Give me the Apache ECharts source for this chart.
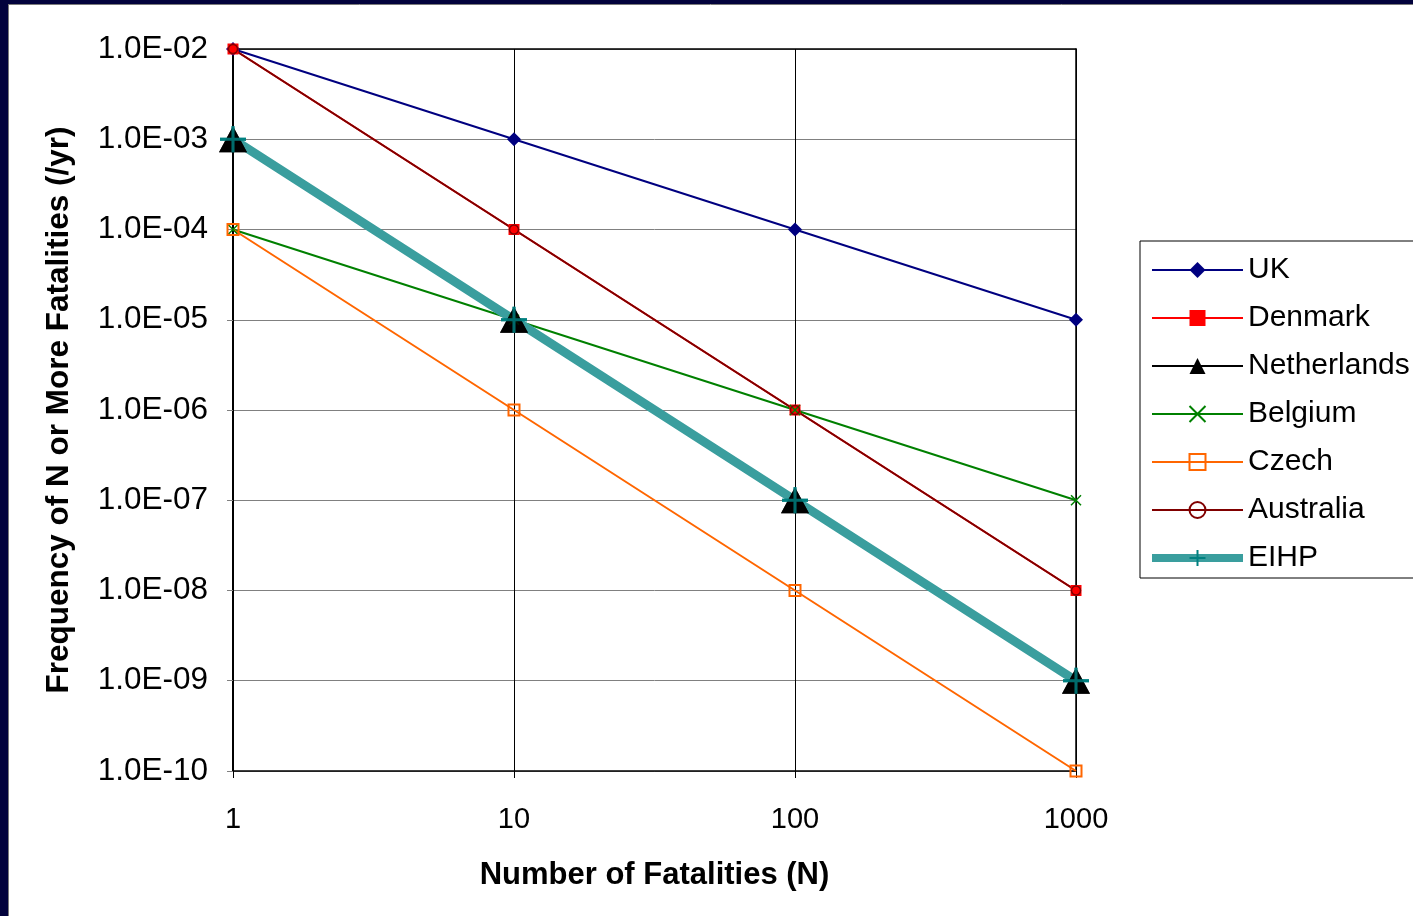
<!DOCTYPE html>
<html><head><meta charset="utf-8">
<script src="https://cdn.jsdelivr.net/npm/echarts@6/dist/echarts.min.js"></script>
<style>html,body{margin:0;padding:0;background:#fff}#c{width:1413px;height:916px}</style>
</head><body><div id="c"></div>
<script>
const fatalities = [1, 10, 100, 1000];
const xTickLabels = ['1', '10', '100', '1000'];
const yTickLabels = ['1.0E-10', '1.0E-09', '1.0E-08', '1.0E-07', '1.0E-06', '1.0E-05', '1.0E-04', '1.0E-03', '1.0E-02'];
const seriesNames = ['UK', 'Denmark', 'Netherlands', 'Belgium', 'Czech', 'Australia', 'EIHP'];
const uk = [1e-2, 1e-3, 1e-4, 1e-5];
const denmark = [1e-2, 1e-4, 1e-6, 1e-8];
const netherlands = [1e-3, 1e-5, 1e-7, 1e-9];
const belgium = [1e-4, 1e-5, 1e-6, 1e-7];
const czech = [1e-4, 1e-6, 1e-8, 1e-10];
const australia = [1e-2, 1e-4, 1e-6, 1e-8];
const eihp = [1e-3, 1e-5, 1e-7, 1e-9];

const pairs = vals => fatalities.map((n, i) => [n, vals[i]]);
const FONT = 'Liberation Sans';
const X_PATH = 'path://M0,0L10,10M10,0L0,10';
const PLUS_PATH = 'path://M5,0L5,10M0,5L10,5';

const legendData = seriesNames.map(n => n === 'EIHP'
  ? {name: n, lineStyle: {width: 8, color: '#3a9e9e'}}
  : {name: n});

const chart = echarts.init(document.getElementById('c'), null, {renderer: 'canvas'});
chart.setOption({
  animation: false,
  backgroundColor: '#ffffff',
  textStyle: {fontFamily: FONT},
  grid: {left: 233, right: 337, top: 49, bottom: 145, show: false},
  legend: {
    orient: 'vertical', left: 1140, top: 241,
    padding: [14, 10, 5, 8],
    borderColor: '#000', borderWidth: 1,
    itemWidth: 91, itemHeight: 20, itemGap: 18,
    textStyle: {fontFamily: FONT, fontSize: 30, color: '#000'},
    data: legendData
  },
  xAxis: [{
    type: 'log', logBase: 10, min: 1, max: 1000,
    name: 'Number of Fatalities (N)', nameLocation: 'middle', nameGap: 89,
    nameTextStyle: {fontFamily: FONT, fontSize: 31, fontWeight: 'bold', color: '#000'},
    axisLine: {show: true, lineStyle: {color: '#000', width: 1.5}},
    axisTick: {show: true, length: 7, lineStyle: {color: '#000'}},
    axisLabel: {fontFamily: FONT, fontSize: 29, color: '#000', margin: 34,
      formatter: v => xTickLabels[Math.round(Math.log10(v))]},
    splitLine: {show: true, lineStyle: {color: '#000', width: 1}},
    minorTick: {show: false}
  }, {
    type: 'log', logBase: 10, min: 1, max: 1000, position: 'top',
    axisLine: {show: true, lineStyle: {color: '#000', width: 1.5}},
    axisTick: {show: false}, axisLabel: {show: false}, splitLine: {show: false}
  }],
  yAxis: [{
    type: 'log', logBase: 10, min: 1e-10, max: 1e-2, interval: 1,
    name: 'Frequency of N or More Fatalities (/yr)', nameLocation: 'middle', nameGap: 158,
    nameTextStyle: {fontFamily: FONT, fontSize: 31.5, fontWeight: 'bold', color: '#000'},
    axisLine: {show: true, lineStyle: {color: '#000', width: 2}},
    axisTick: {show: true, length: 6, lineStyle: {color: '#808080'}},
    axisLabel: {fontFamily: FONT, fontSize: 31.5, color: '#000', margin: 25,
      formatter: v => yTickLabels[Math.round(Math.log10(v)) + 10]},
    splitLine: {show: true, lineStyle: {color: '#808080', width: 1}}
  }, {
    type: 'log', logBase: 10, min: 1e-10, max: 1e-2, interval: 1, position: 'right',
    axisLine: {show: true, lineStyle: {color: '#000', width: 1.5}},
    axisTick: {show: false}, axisLabel: {show: false}, splitLine: {show: false}
  }],
  graphic: [
    {type: 'rect', shape: {x: 0, y: 0, width: 8, height: 916}, style: {fill: '#02023c'}, z: 100},
    {type: 'rect', shape: {x: 0, y: 0, width: 1413, height: 4}, style: {fill: '#02023c'}, z: 100},
    {type: 'line', shape: {x1: 8.5, y1: 4, x2: 8.5, y2: 916}, style: {stroke: '#7a7a7a', lineWidth: 1}, z: 100},
    {type: 'line', shape: {x1: 8, y1: 4.5, x2: 1413, y2: 4.5}, style: {stroke: '#7a7a7a', lineWidth: 1}, z: 100}
  ],
  series: [
    {name: 'UK', type: 'line', data: pairs(uk), symbol: 'diamond', symbolSize: 14,
      lineStyle: {color: '#000080', width: 2}, itemStyle: {color: '#000080'}},
    {name: 'Denmark', type: 'line', data: pairs(denmark), symbol: 'rect', symbolSize: 11,
      lineStyle: {color: '#ff0000', width: 2}, itemStyle: {color: '#ff0000'}},
    {name: 'Netherlands', type: 'line', data: pairs(netherlands), symbol: 'triangle', symbolSize: [28, 26],
      lineStyle: {color: '#000000', width: 2}, itemStyle: {color: '#000000'}},
    {name: 'Belgium', type: 'line', data: pairs(belgium), symbol: X_PATH, symbolSize: 10,
      lineStyle: {color: '#008000', width: 2}, itemStyle: {color: '#008000', borderColor: '#008000', borderWidth: 1.5}},
    {name: 'Czech', type: 'line', data: pairs(czech), symbol: 'rect', symbolSize: 11,
      lineStyle: {color: '#ff6600', width: 2}, itemStyle: {color: 'rgba(255,255,255,0)', borderColor: '#ff6600', borderWidth: 2}},
    {name: 'Australia', type: 'line', data: pairs(australia), symbol: 'circle', symbolSize: 9,
      lineStyle: {color: '#800000', width: 2}, itemStyle: {color: 'rgba(255,255,255,0)', borderColor: '#800000', borderWidth: 1.5}},
    {name: 'EIHP', type: 'line', data: pairs(eihp), symbol: PLUS_PATH, symbolSize: 26,
      lineStyle: {color: '#3a9e9e', width: 9}, itemStyle: {color: '#008080', borderColor: '#008080', borderWidth: 3}},
    {name: '_nl', type: 'scatter', data: pairs(netherlands), symbol: 'triangle', symbolSize: [28, 26], z: 3,
      itemStyle: {color: '#000000'}, silent: true},
    {name: '_eihp', type: 'scatter', data: pairs(eihp), symbol: PLUS_PATH, symbolSize: 26, z: 4,
      itemStyle: {color: '#008080', borderColor: '#008080', borderWidth: 3}, silent: true}
  ]
});
</script></body></html>
